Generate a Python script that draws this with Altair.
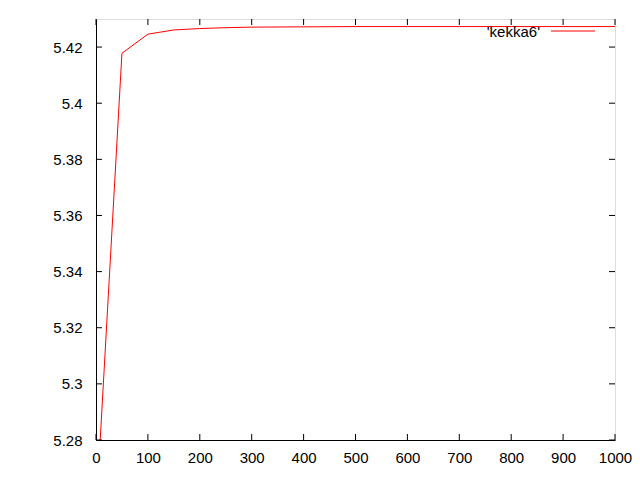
import altair as alt
import pandas as pd

xs = [0, 50, 100, 150, 200, 250, 300, 400, 500, 600, 700, 800, 900, 1000]
ys = [5.2535, 5.4178, 5.4246, 5.4261, 5.4266, 5.4269, 5.4271, 5.4272, 5.4273,
      5.4273, 5.4273, 5.4273, 5.4273, 5.4273]
x_ticks = [0, 100, 200, 300, 400, 500, 600, 700, 800, 900, 1000]
y_ticks = [5.28, 5.30, 5.32, 5.34, 5.36, 5.38, 5.40, 5.42]
series_name = "'kekka6'"

W, H = 519, 421
FONT = "Liberation Sans"
FS = 15

df = pd.DataFrame({"x": xs, "y": ys})
xt = pd.DataFrame({"t": x_ticks})
yt = pd.DataFrame({"t": y_ticks})

xscale = alt.Scale(domain=[0, 1000], nice=False, zero=False)
yscale = alt.Scale(domain=[5.28, 5.43], nice=False, zero=False)

line = alt.Chart(df).mark_line(color="#ff0000", strokeWidth=1, clip=True).encode(
    x=alt.X("x:Q", scale=xscale,
            axis=alt.Axis(values=x_ticks, title=None, tickSize=0, labelPadding=10,
                          labelFontSize=FS, labelFont=FONT, labelColor="#000000",
                          domainColor="#000000", grid=False, labelFlush=False,
                          format="d")),
    y=alt.Y("y:Q", scale=yscale,
            axis=alt.Axis(values=y_ticks, title=None, tickSize=0, labelPadding=14,
                          labelFontSize=FS, labelFont=FONT, labelColor="#000000",
                          domainColor="#000000", grid=False, labelFlush=False,
                          format="~g")),
)

bx = alt.Chart(xt).mark_rule(color="#000000", strokeWidth=1).encode(
    x=alt.X("t:Q", scale=xscale), y=alt.value(H), y2=alt.value(H - 6))
tx = alt.Chart(xt).mark_rule(color="#000000", strokeWidth=1).encode(
    x=alt.X("t:Q", scale=xscale), y=alt.value(0), y2=alt.value(6))
ly = alt.Chart(yt).mark_rule(color="#000000", strokeWidth=1).encode(
    y=alt.Y("t:Q", scale=yscale), x=alt.value(0), x2=alt.value(6))
ry = alt.Chart(yt).mark_rule(color="#000000", strokeWidth=1).encode(
    y=alt.Y("t:Q", scale=yscale), x=alt.value(W), x2=alt.value(W - 6))

leg_df = pd.DataFrame({"label": [series_name]})
leg_text = alt.Chart(leg_df).mark_text(align="right", baseline="alphabetic", fontSize=FS,
                                       font=FONT, color="#000000").encode(
    text="label:N", x=alt.value(444), y=alt.value(17.5))
leg_line = alt.Chart(leg_df).mark_rule(color="#ff0000", strokeWidth=1).encode(
    x=alt.value(455), x2=alt.value(499), y=alt.value(12), color=alt.value("#ff0000"))

chart = alt.layer(line, bx, tx, ly, ry, leg_text, leg_line).properties(
    width=W, height=H,
    autosize=alt.AutoSizeParams(type="none"),
    padding={"left": 88, "top": 11, "right": 17, "bottom": 32},
).configure_view(stroke="#000000", strokeWidth=1).configure(background="white")

chart.save("out.html", embed_options={"renderer": "svg", "actions": False})
